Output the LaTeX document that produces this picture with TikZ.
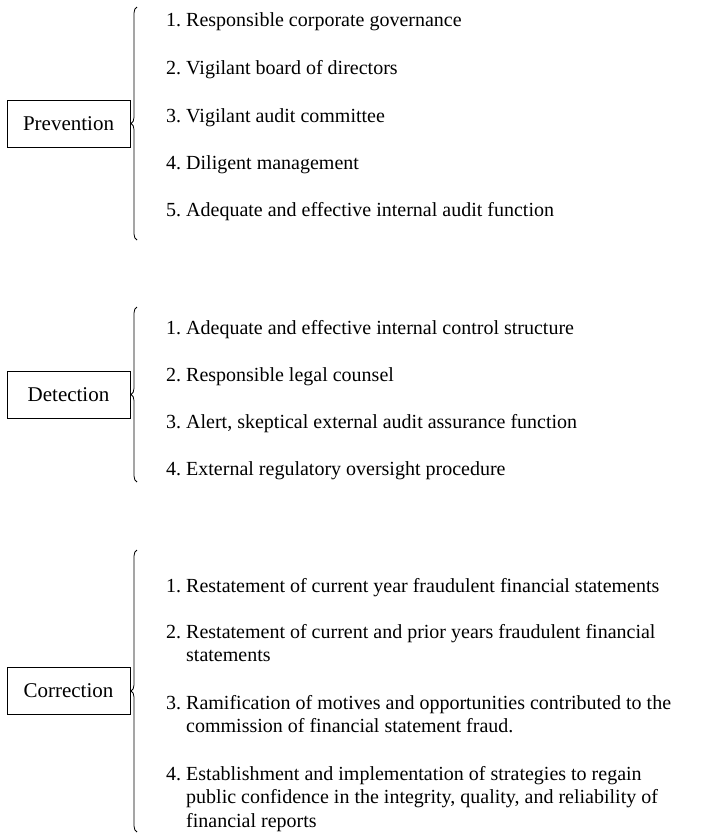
\documentclass[tikz,border=0pt]{standalone}
\usepackage{fontspec}
\setmainfont{Liberation Serif}
\usetikzlibrary{decorations.pathreplacing}
\frenchspacing
\begin{document}
\begin{tikzpicture}[x=1pt,y=-1pt,
  catbox/.style={draw,line width=0.8pt,minimum width=123pt,minimum height=47pt,
    inner sep=0pt,font=\fontsize{21}{25}\selectfont},
  item/.style={anchor=base west,inner sep=0pt,align=left,
    font=\fontsize{20}{23.5}\selectfont},
  curly/.style={draw,line width=0.8pt,decorate,
    decoration={brace,amplitude=6pt,aspect=0.5}}]
\useasboundingbox (0,0) rectangle (708,836);

% Prevention group
\node[catbox] (prev) at (68.5,123.5) {Prevention};
\coordinate (prevTop) at (137,7);
\coordinate (prevBot) at (137,240);
\draw[curly] (prevBot) -- (prevTop);
\node[item] (p1) at (166,26)  {1. Responsible corporate governance};
\node[item] (p2) at (166,74)  {2. Vigilant board of directors};
\node[item] (p3) at (166,122) {3. Vigilant audit committee};
\node[item] (p4) at (166,169) {4. Diligent management};
\node[item] (p5) at (166,216) {5. Adequate and effective internal audit function};

% Detection group
\node[catbox] (det) at (68.5,394.5) {Detection};
\coordinate (detTop) at (137,307);
\coordinate (detBot) at (137,482);
\draw[curly] (detBot) -- (detTop);
\node[item] (d1) at (166,334) {1. Adequate and effective internal control structure};
\node[item] (d2) at (166,381) {2. Responsible legal counsel};
\node[item] (d3) at (166,428) {3. Alert, skeptical external audit assurance function};
\node[item] (d4) at (166,475) {4. External regulatory oversight procedure};

% Correction group (multi-line items are placed by the baseline of their last line)
\node[catbox] (cor) at (68.5,690.5) {Correction};
\coordinate (corTop) at (137,550);
\coordinate (corBot) at (137,832);
\draw[curly] (corBot) -- (corTop);
\node[item] (c1) at (166,592) {1. Restatement of current year fraudulent financial statements};
\node[item] (c2) at (166,661.5) {2. Restatement of current and prior years fraudulent financial\\
  \hspace*{20pt}statements};
\node[item] (c3) at (166,732.5) {3. Ramification of motives and opportunities contributed to the\\
  \hspace*{20pt}commission of financial statement fraud.};
\node[item] (c4) at (166,827) {4. Establishment and implementation of strategies to regain\\
  \hspace*{20pt}public confidence in the integrity, quality, and reliability of\\
  \hspace*{20pt}financial reports};
\end{tikzpicture}
\end{document}
